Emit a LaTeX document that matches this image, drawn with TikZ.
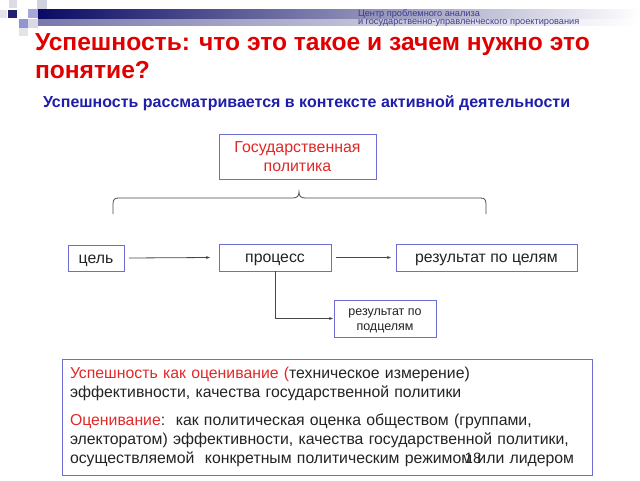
\documentclass[tikz,border=0pt]{standalone}
\usepackage{fontspec}
\setmainfont{Liberation Sans}
\usetikzlibrary{arrows.meta,positioning}
\definecolor{titlered}{RGB}{225,0,0}
\definecolor{subblue}{RGB}{30,30,170}
\definecolor{boxblue}{RGB}{110,110,210}
\definecolor{policyred}{RGB}{225,40,40}
\definecolor{inkgray}{RGB}{35,35,35}
\definecolor{linegray}{RGB}{70,70,70}
\definecolor{barnavy}{RGB}{10,10,100}
\definecolor{headnavy}{RGB}{60,60,140}

\begin{document}
\begin{tikzpicture}[
	x=1pt,y=-1pt,
	every node/.style={inner sep=0pt,outer sep=0pt,text=inkgray},
	box/.style={draw=boxblue,line width=0.9pt,fill=white,minimum height=27pt,font=\fontsize{15.8}{18}\selectfont},
	oneline/.style={text height=12.5pt,text depth=2.5pt},
	link/.style={draw=linegray,line width=0.8pt,-{Stealth[length=4pt,width=3pt]}}
	]
	\useasboundingbox (0,0) rectangle (640,480);
	\shade[left color=barnavy,right color=white] (38,9) rectangle (640,19);
	\shade[left color=barnavy!55,right color=white] (38,19) rectangle (640,25);
	\fill[blue!10!gray!25] (9,0) rectangle (17,8);
	\fill[barnavy!90] (8,10) rectangle (17,18);
	\fill[blue!8!gray!20] (0,10) rectangle (7,18);
	\fill[blue!40!gray!50] (28,9) rectangle (38,18);
	\fill[blue!20!gray!30] (37,0) rectangle (47,9);
	\fill[blue!40!gray!60] (19,19) rectangle (28,28);
	\fill[blue!15!gray!25] (28,19) rectangle (38,28);
	\fill[blue!10!gray!20] (19,28) rectangle (28,36);
	\node[anchor=north west,align=left,text=headnavy,font=\fontsize{9.2}{8.4}\selectfont] (centre) at (358,9.5) {Центр проблемного анализа\\и государственно-управленческого проектирования};
	\node[anchor=base west,text=titlered,font=\bfseries\fontsize{24.6}{28}\selectfont] (title) at (35,50) {Успешность: что это такое и зачем нужно это};
	\node[anchor=base west,text=titlered,font=\bfseries\fontsize{24.6}{28}\selectfont] (titlecont) at (35,78) {понятие?};
	\node[anchor=base west,text=subblue,font=\bfseries\fontsize{16}{18}\selectfont] (subtitle) at (43,107) {Успешность рассматривается в контексте активной деятельности};
	\node[box,anchor=north west,minimum width=157pt,minimum height=45pt,align=center,text=policyred,font=\fontsize{15.9}{18.5}\selectfont] (policy) at (219,134) {Государственная\\политика};
	\draw[linegray,line width=0.8pt] (113,214) -- (113,204) .. controls (113,199) and (115,198) .. (119,198) -- (293,198) .. controls (297,198) and (299,196) .. (299,192) .. controls (299,196) and (301,198) .. (305,198) -- (480,198) .. controls (484,198) and (486,199) .. (486,204) -- (486,214);
	\node[box,oneline,anchor=north west,minimum width=56pt,minimum height=26pt] (goal) at (68,245) {цель};
	\node[box,oneline,anchor=north west,minimum width=112pt] (process) at (219,244) {процесс};
	\node[box,oneline,anchor=north west,minimum width=181pt] (result) at (396,244) {результат по целям};
	\node[box,anchor=north west,minimum width=102pt,minimum height=37pt,align=center,font=\fontsize{12.5}{15}\selectfont] (subgoal) at (334,300) {\rule{0pt}{11pt}результат по\\подцелям};
	\draw[link] ([xshift=5pt]goal.east) -- ([xshift=-9pt]process.west);
	\draw[link] ([xshift=5pt]process.east) -- ([xshift=-5pt]result.west);
	\draw[link] (process.south) |- ([xshift=-1pt]subgoal.west);
	\node[draw=boxblue,line width=0.9pt,anchor=north west,minimum height=116pt,text width=514pt,inner xsep=8pt,align=left,font=\fontsize{15.8}{19}\selectfont] (summary) at (62,359) {{\color{policyred}Успешность как оценивание (}техническое измерение)\\
	эффективности, качества государственной политики\\[9pt]
	{\color{policyred}Оценивание}:\ \ как политическая оценка обществом (группами,\\
	электоратом) эффективности, качества государственной политики,\\
	осуществляемой\ \ конкретным политическим режимом или лидером};
	\node[font=\fontsize{15}{15}\selectfont] (pagenum) at (473,458) {18};
\end{tikzpicture}
\end{document}
